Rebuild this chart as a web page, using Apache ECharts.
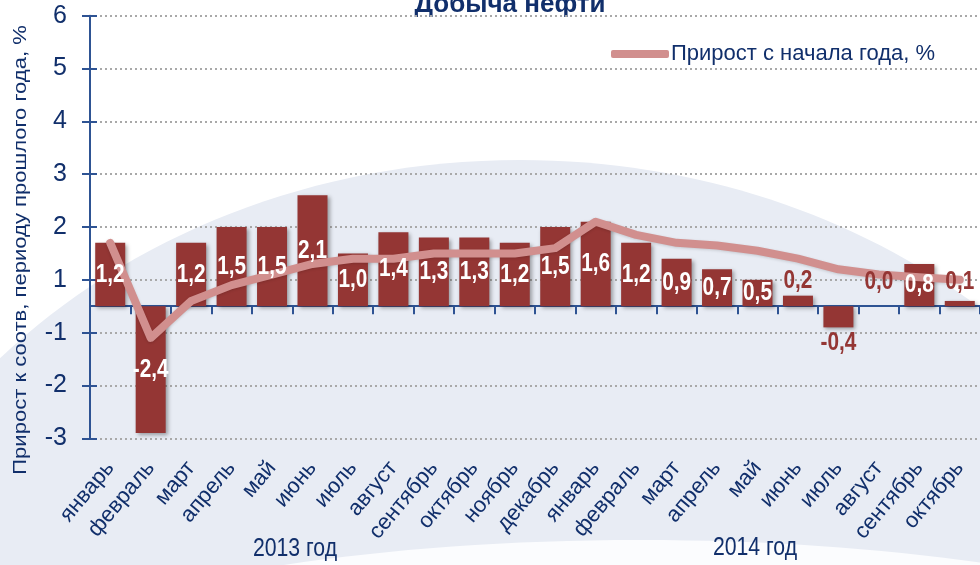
<html lang="ru">
<head>
    <meta charset="UTF-8">
    <title>Добыча нефти</title>
    <script src="https://cdn.jsdelivr.net/npm/echarts@6/dist/echarts.min.js"></script>
    <style>
        body { margin: 0; background: #fff; }
        #chart { width: 980px; height: 565px; }
    </style>
</head>
<body>
<div id="chart"></div>
<script>
    // месяцы 2013-2014
    var months = ['январь', 'февраль', 'март', 'апрель', 'май', 'июнь', 'июль', 'август',
        'сентябрь', 'октябрь', 'ноябрь', 'декабрь',
        'январь', 'февраль', 'март', 'апрель', 'май', 'июнь', 'июль', 'август',
        'сентябрь', 'октябрь'];
    // прирост к соотв. периоду прошлого года, %
    var monthly = [1.2, -2.4, 1.2, 1.5, 1.5, 2.1, 1.0, 1.4, 1.3, 1.3, 1.2, 1.5,
        1.6, 1.2, 0.9, 0.7, 0.5, 0.2, -0.4, 0.0, 0.8, 0.1];
    // прирост с начала года, %
    var ytd = [1.2, -0.6, 0.1, 0.4, 0.6, 0.8, 0.9, 0.9, 1.0, 1.0, 1.0, 1.1,
        1.6, 1.35, 1.2, 1.15, 1.05, 0.9, 0.7, 0.6, 0.55, 0.5];
    var yearLabels = ['2013 год', '2014 год'];

    var navy = '#112f6b';
    var axisBlue = '#2e5393';
    var barRed = '#943634';
    var sans = '"Liberation Sans", Arial, sans-serif';

    var chart = echarts.init(document.getElementById('chart'));

    var cats = months.map(function (m, i) { return String(i); });

    // подписи столбцов (узкий шрифт как в оригинале -> сжимаем по ширине)
    function renderLabel(params, api) {
        var i = api.value(0);
        var v = api.value(1);
        var x = api.coord([i, v])[0];
        var y, color = '#ffffff';
        if (v >= 0 && v < 0.3) {
            y = Math.min(api.coord([i, v])[1] - 15, api.coord([i, 0.47])[1]);
            color = barRed;
        } else if (v < 0 && v > -1) {
            y = api.coord([i, v])[1] + 15;
            color = barRed;
        } else {
            y = api.coord([i, v / 2])[1];
        }
        return {
            type: 'text',
            x: x,
            y: y,
            scaleX: 0.8,
            style: {
                text: v.toFixed(1).replace('.', ','),
                font: 'bold 26px ' + sans,
                fill: color,
                align: 'center',
                verticalAlign: 'middle'
            }
        };
    }

    var option = {
        backgroundColor: '#ffffff',
        animation: false,
        grid: { left: 90, right: -1, top: 15.7, bottom: 126.7 },
        legend: {
            data: ['Прирост с начала года, %'],
            left: 606,
            top: 38,
            icon: 'roundRect',
            itemWidth: 58,
            itemHeight: 8,
            textStyle: { fontFamily: sans, fontSize: 22, color: navy, padding: [0, 0, 0, -3] }
        },
        xAxis: [{
            type: 'category',
            data: cats,
            axisLine: { onZero: true, lineStyle: { color: axisBlue, width: 2 } },
            axisTick: { show: true, length: 8, lineStyle: { color: axisBlue, width: 2 } },
            axisLabel: { show: false },
            splitLine: { show: false }
        }, {
            type: 'category',
            data: cats,
            position: 'bottom',
            axisLine: { show: false, onZero: false },
            axisTick: { show: false },
            axisLabel: {
                interval: 0,
                rotate: 50,
                margin: 26,
                fontFamily: sans,
                fontSize: 22,
                color: navy,
                formatter: function (v, i) { return months[i]; }
            }
        }, {
            type: 'category',
            data: cats,
            axisLine: { onZero: true, show: false },
            axisTick: { show: true, inside: true, length: 8, lineStyle: { color: axisBlue, width: 2 } },
            axisLabel: { show: false }
        }],
        yAxis: [{
            type: 'value',
            min: -2.5,
            max: 5.5,
            interval: 1,
            axisLine: { show: true, lineStyle: { color: axisBlue, width: 2 } },
            axisTick: { show: true, length: 8, lineStyle: { color: axisBlue, width: 2 } },
            axisLabel: {
                margin: 23,
                fontFamily: sans,
                fontSize: 25,
                color: navy,
                formatter: function (v) {
                    return String(Math.round(v >= 0 ? v + 0.5 : v - 0.5));
                }
            },
            splitLine: { show: true, lineStyle: { type: [2, 3], color: '#a9a9a9', width: 2 } }
        }, {
            type: 'value',
            min: -2.5,
            max: 5.5,
            interval: 1,
            position: 'left',
            axisLine: { show: false },
            axisTick: { show: true, inside: true, length: 7, lineStyle: { color: axisBlue, width: 2 } },
            axisLabel: { show: false },
            splitLine: { show: false }
        }],
        series: [{
            name: 'Прирост к соотв. периоду',
            type: 'bar',
            data: monthly,
            barWidth: 30,
            z: 2,
            itemStyle: {
                color: barRed,
                shadowColor: 'rgba(0,0,0,0.35)',
                shadowBlur: 4,
                shadowOffsetX: 2,
                shadowOffsetY: 2
            }
        }, {
            name: 'Прирост с начала года, %',
            type: 'line',
            data: ytd,
            z: 3,
            symbol: 'none',
            smooth: false,
            lineStyle: {
                color: '#d18f8e',
                width: 8,
                cap: 'round',
                join: 'round',
                shadowColor: 'rgba(0,0,0,0.15)',
                shadowBlur: 3,
                shadowOffsetY: 1
            },
            itemStyle: { color: '#d18f8e' }
        }, {
            name: 'labels',
            type: 'custom',
            coordinateSystem: 'cartesian2d',
            data: monthly.map(function (v, i) { return [i, v]; }),
            z: 5,
            silent: true,
            renderItem: renderLabel
        }],
        graphic: [{
            type: 'ellipse',
            z: -10,
            silent: true,
            shape: { cx: 520, cy: 760, rx: 700, ry: 600 },
            style: { fill: '#e8ecf4' }
        }, {
            type: 'ellipse',
            z: -9,
            silent: true,
            shape: { cx: 640, cy: 720, rx: 700, ry: 180 },
            style: { fill: '#fbfcfe' }
        }, {
            type: 'text',
            x: 510,
            y: 5,
            style: {
                text: 'Добыча нефти',
                font: 'bold 26px ' + sans,
                fill: navy,
                align: 'center',
                verticalAlign: 'middle'
            }
        }, {
            type: 'text',
            x: 21,
            y: 250,
            rotation: Math.PI / 2,
            scaleX: 1.16,
            style: {
                text: 'Прирост к соотв, периоду прошлого года, %',
                font: '19px ' + sans,
                fill: navy,
                align: 'center',
                verticalAlign: 'middle'
            }
        }, {
            type: 'text',
            x: 295,
            y: 549,
            scaleX: 0.85,
            style: {
                text: yearLabels[0],
                font: '25px ' + sans,
                fill: navy,
                align: 'center',
                verticalAlign: 'middle'
            }
        }, {
            type: 'text',
            x: 755,
            y: 548,
            scaleX: 0.85,
            style: {
                text: yearLabels[1],
                font: '25px ' + sans,
                fill: navy,
                align: 'center',
                verticalAlign: 'middle'
            }
        }]
    };

    chart.setOption(option);
</script>
</body>
</html>
